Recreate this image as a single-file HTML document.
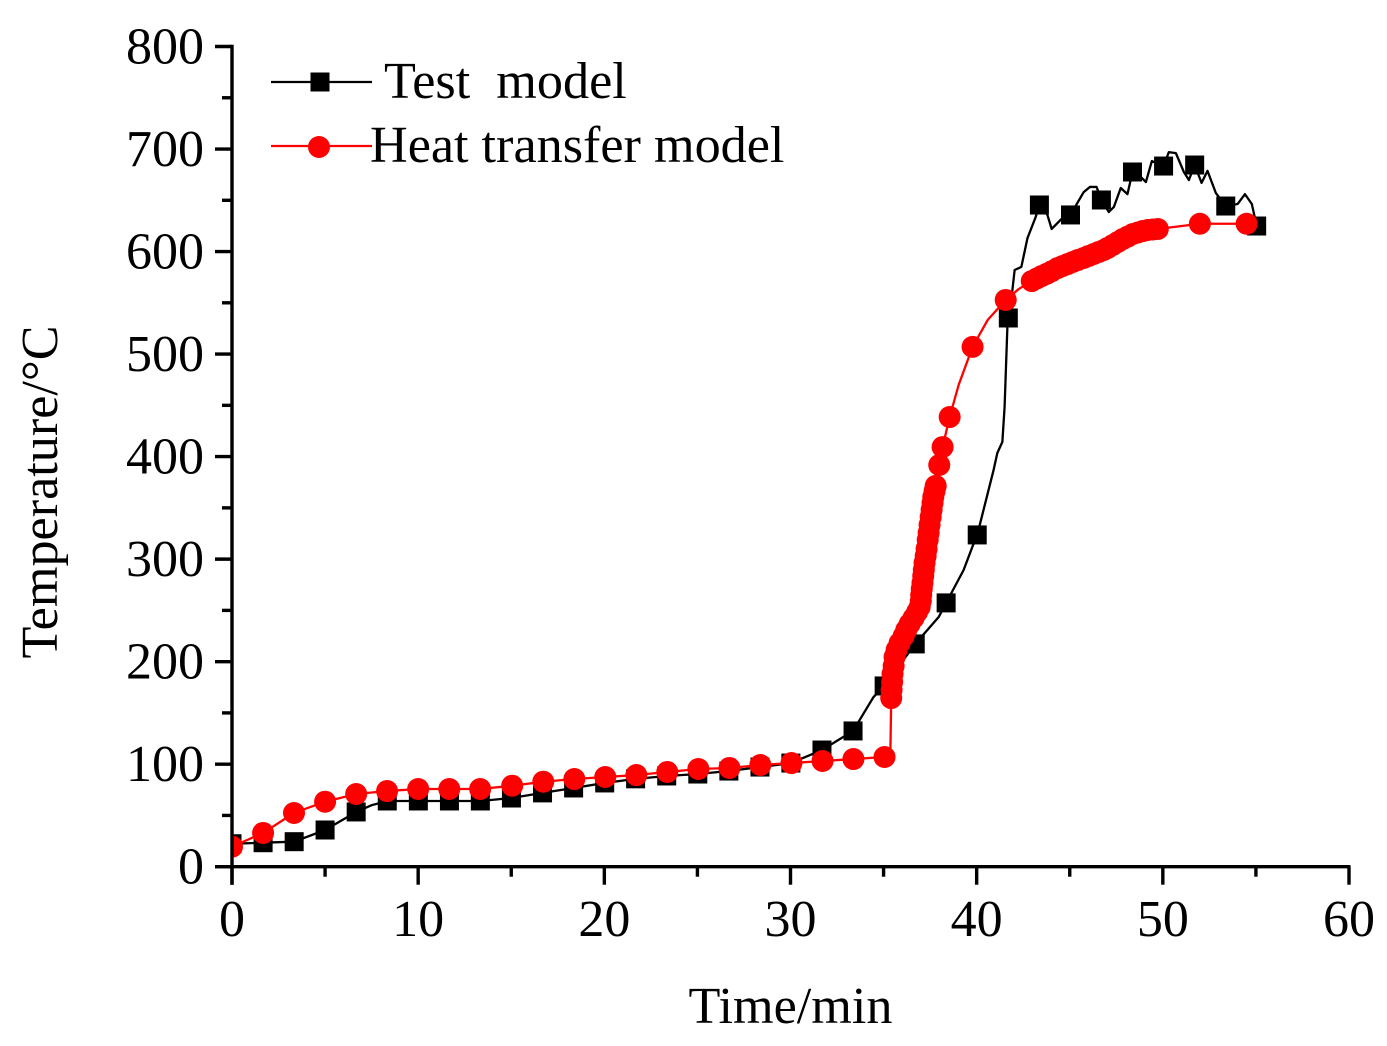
<!DOCTYPE html>
<html lang="en">
<head>
<meta charset="utf-8">
<title>Temperature vs Time</title>
<style>
html,body{margin:0;padding:0;background:#fff;width:1387px;height:1046px;overflow:hidden}
svg{display:block;font-family:"Liberation Serif",serif;fill:#000}
</style>
</head>
<body>
<svg id="chart" xmlns="http://www.w3.org/2000/svg" width="1387" height="1046" viewBox="0 0 1387 1046">
  <defs>
    <clipPath id="plot-clip"><rect x="232" y="0" width="1155" height="1046"/></clipPath>
  </defs>
  <rect x="0" y="0" width="1387" height="1046" fill="#fff"/>
  <g id="series" clip-path="url(#plot-clip)"></g>
  <g id="axes"></g>
  <text x="790.5" y="1023" font-size="52.2" text-anchor="middle">Time/min</text>
  <text x="0" y="0" font-size="52.2" text-anchor="middle" transform="translate(57 492) rotate(-90)">Temperature/°C</text>
  <g>
    <line x1="271" y1="82" x2="372" y2="82" stroke="#000" stroke-width="2.3"/>
    <rect x="310.5" y="72.5" width="19" height="19" fill="#000"/>
    <text x="384" y="98" font-size="52.2" xml:space="preserve" style="white-space:pre">Test  model</text>
    <line x1="271" y1="146" x2="372" y2="146" stroke="#f00" stroke-width="2.3"/>
    <circle cx="319" cy="147" r="11" fill="#f00"/>
    <text x="370" y="162" font-size="52.2">Heat transfer model</text>
  </g>
</svg>
<script>
const xTickLabels = [0, 10, 20, 30, 40, 50, 60];
const xMinorTicks = [5, 15, 25, 35, 45, 55];
const yTickLabels = [0, 100, 200, 300, 400, 500, 600, 700, 800];
const yMinorTicks = [50, 150, 250, 350, 450, 550, 650, 750];

const testLineTime = [0,1.67,3.34,5,6.67,7.5,8.34,10.01,11.68,13.34,15.01,16.68,18.35,20.02,21.68,23.35,25.02,26.69,28.36,30.02,31.69,33.36,34.46,35.03,36.7,37.96,38.36,39.3,39.77,40.03,40.91,41.11,41.38,41.5,41.65,41.7,41.92,42.04,42.4,42.73,43.17,43.37,43.8,44.03,44.61,45.04,45.41,45.75,46.08,46.44,46.7,47.1,47.37,47.74,48.1,48.37,48.82,49.09,49.41,50.04,50.32,50.7,51.13,51.4,51.71,52.08,52.4,52.85,53.38,54.02,54.41,54.78,55.04];
const testLineTemp = [22.4,23.4,24.4,35.8,53.4,60,64.1,64.1,64.1,64.1,67,72,76.8,81.7,85.7,88.5,90.4,93.3,97.2,101.1,113.8,132.4,165.5,176.3,217.3,243.5,257.3,289.4,312,323.6,387,403.5,414.3,448.4,526.4,536,562.6,582,585,613.2,633.7,645.4,635.7,622,632.8,635.7,647.4,658,663,663,650.3,638.6,643.5,662,656,677.6,672.7,667.8,688.3,683,697,696,677.6,669.8,684.4,667,678.7,657,644.4,646.4,656,646.4,624.9];

const testMarkerTime = [0,1.67,3.34,5,6.67,8.34,10.01,11.68,13.34,15.01,16.68,18.35,20.02,21.68,23.35,25.02,26.69,28.36,30.02,31.69,33.36,35.03,36.7,38.36,40.03,41.7,43.37,45.04,46.7,48.37,50.04,51.71,53.38,55.04];
const testMarkerTemp = [22.4,23.4,24.4,35.8,53.4,64.1,64.1,64.1,64.1,67,72,76.8,81.7,85.7,88.5,90.4,93.3,97.2,101.1,113.8,132.4,176.3,217.3,257.3,323.6,535.2,645.4,635.7,650.3,677.6,683.4,684.4,644.4,624.9];

const heatTime = [0,1.67,3.33,5,6.67,8.33,10,11.67,13.33,15.05,16.72,18.39,20.05,21.72,23.38,25.05,26.72,28.38,30.05,31.72,33.38,35.05,35.36,35.41,35.43,35.46,35.48,35.54,35.59,35.7,35.86,36.08,36.22,36.4,36.61,36.8,36.94,37,37.02,37.05,37.09,37.13,37.16,37.2,37.26,37.31,37.37,37.42,37.47,37.53,37.58,37.63,37.67,37.74,37.8,37.99,38.17,38.55,39.03,39.78,40.59,41.56,42.26,42.96,43.23,43.49,43.76,44.03,44.35,44.62,44.89,45.16,45.43,45.75,46.02,46.29,46.56,46.83,47.04,47.31,47.58,47.85,48.12,48.39,48.66,48.92,49.19,49.46,49.73,51.99,54.5];
const heatTemp = [19.5,32.9,52.4,63.4,70.9,73.8,75.8,75.8,75.8,79,82.9,85.5,87.5,89.4,92.4,95.3,96.3,99.2,101.1,103.1,105,107,107,164.5,172.3,180.1,188,195.7,204.5,211.4,218.2,225,230.9,236.8,242.6,248.4,253.3,259.2,265,270.9,276.7,283.6,289.4,296.2,303,310,318.6,325.5,333.3,341,348,354.8,360.6,366.5,371.4,391.8,409.3,438.6,469.8,507,533.2,552.8,563.4,571.2,573.7,576.1,578.3,580.8,583.9,585.9,587.8,589.8,591.7,593.7,595.7,597.6,599.6,601.5,603.5,606.4,609.3,612.2,614.6,617.1,618.6,620,621,621.5,622,627.1,627.1];
const heatKneeIndexes = [22, 58, 60, 62];

const svgNS = 'http://www.w3.org/2000/svg';
const xScale = function (t) { return 232 + t * (1349 - 232) / 60; };
const yScale = function (v) { return 866.7 - v * (866.7 - 46.5) / 800; };
const seriesGroup = document.getElementById('series');
const axesGroup = document.getElementById('axes');

function make(tag, parent, attrs) {
  const el = document.createElementNS(svgNS, tag);
  Object.keys(attrs).forEach(function (k) { el.setAttribute(k, attrs[k]); });
  parent.appendChild(el);
  return el;
}

function polyPoints(ts, vs) {
  return ts.map(function (t, i) { return xScale(t).toFixed(2) + ',' + yScale(vs[i]).toFixed(2); }).join(' ');
}

const testLine = make('polyline', seriesGroup, { points: polyPoints(testLineTime, testLineTemp), fill: 'none', stroke: '#000', 'stroke-width': 2.3, 'stroke-linejoin': 'round' });



testMarkerTime.forEach(function (t, i) {
  const m = make('rect', seriesGroup, { x: xScale(t) - 9.5, y: yScale(testMarkerTemp[i]) - 9.5, width: 19, height: 19, fill: '#000' });
  
  
});

const heatLine = make('polyline', seriesGroup, { points: polyPoints(heatTime, heatTemp), fill: 'none', stroke: '#f00', 'stroke-width': 2.3, 'stroke-linejoin': 'round' });



heatTime.forEach(function (t, i) {
  if (heatKneeIndexes.indexOf(i) !== -1) { return; }
  const c = make('circle', seriesGroup, { cx: xScale(t), cy: yScale(heatTemp[i]), r: 11, fill: '#f00' });
  
  
});

const xAxisLine = make('line', axesGroup, { x1: 215, y1: yScale(0), x2: xScale(60) + 1.5, y2: yScale(0), stroke: '#000', 'stroke-width': 3.4 });



const yAxisLine = make('line', axesGroup, { x1: xScale(0), y1: yScale(800) - 1.7, x2: xScale(0), y2: yScale(0) + 18, stroke: '#000', 'stroke-width': 3.4 });



xTickLabels.forEach(function (v) {
  const tick = make('line', axesGroup, { x1: xScale(v), y1: yScale(0), x2: xScale(v), y2: yScale(0) + 18, stroke: '#000', 'stroke-width': 3.4 });
  
  
  const label = make('text', axesGroup, { x: xScale(v), y: 936, 'font-size': 52, 'text-anchor': 'middle' });
  label.textContent = String(v);
  
  
});

xMinorTicks.forEach(function (v) {
  const tick = make('line', axesGroup, { x1: xScale(v), y1: yScale(0), x2: xScale(v), y2: yScale(0) + 10, stroke: '#000', 'stroke-width': 3.4 });
  
  
});

yTickLabels.forEach(function (v) {
  const tick = make('line', axesGroup, { x1: 215, y1: yScale(v), x2: xScale(0), y2: yScale(v), stroke: '#000', 'stroke-width': 3.4 });
  
  
  const label = make('text', axesGroup, { x: 204, y: yScale(v) + 17, 'font-size': 52, 'text-anchor': 'end' });
  label.textContent = String(v);
  
  
});

yMinorTicks.forEach(function (v) {
  const tick = make('line', axesGroup, { x1: 222, y1: yScale(v), x2: xScale(0), y2: yScale(v), stroke: '#000', 'stroke-width': 3.4 });
  
  
});
</script>
</body>
</html>
